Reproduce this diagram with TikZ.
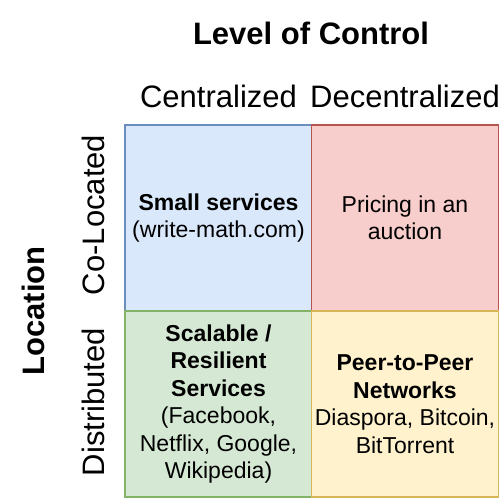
\documentclass[tikz,border=0pt]{standalone}
\usepackage{fontspec}
\setmainfont{Liberation Sans}
\usetikzlibrary{positioning}
\definecolor{blueFill}{HTML}{DAE8FC}
\definecolor{blueLine}{HTML}{6C8EBF}
\definecolor{redFill}{HTML}{F8CECC}
\definecolor{redLine}{HTML}{B85450}
\definecolor{greenFill}{HTML}{D5E8D4}
\definecolor{greenLine}{HTML}{82B366}
\definecolor{yellowFill}{HTML}{FFF2CC}
\definecolor{yellowLine}{HTML}{D6B656}
\begin{document}
\begin{tikzpicture}[x=1pt, y=-1pt,
        cell/.style={draw, line width=1.2pt, minimum width=187pt, minimum height=186pt, inner sep=0pt, align=center, font=\fontsize{23}{27.5}\selectfont},
        header/.style={inner sep=0pt, font=\fontsize{31}{36}\selectfont},
        title/.style={inner sep=0pt, font=\fontsize{31}{36}\selectfont\bfseries}]
            \useasboundingbox (0,0) rectangle (500,500);
            % Quadrants
            \node[cell, fill=blueFill, draw=blueLine] (colocCentral) at (218.5,218) {\textbf{Small services}\\(write-math.com)};
            \node[cell, fill=redFill, draw=redLine] (colocDecentral) at (405,218) {Pricing in an\\auction};
            \node[cell, fill=greenFill, draw=greenLine] (distCentral) at (218.5,404) {\textbf{Scalable /}\\\textbf{Resilient}\\\textbf{Services}\\(Facebook,\\Netflix, Google,\\Wikipedia)};
            \node[cell, fill=yellowFill, draw=yellowLine] (distDecentral) at (405,404) {\textbf{Peer-to-Peer}\\\textbf{Networks}\\Diaspora, Bitcoin,\\BitTorrent};
            
            % Column headings
            \node[title] (control) at (311,33) {Level of Control};
            \node[header] (central) at (218.5,96) {Centralized};
            \node[header] (decentral) at (405,96) {Decentralized};
            
            % Row headings
            \node[title, rotate=90] (location) at (33,311) {Location};
            \node[header, rotate=90] (colocated) at (93,215) {Co-Located};
            \node[header, rotate=90] (distributed) at (93,402) {Distributed};
        \end{tikzpicture}
\end{document}
